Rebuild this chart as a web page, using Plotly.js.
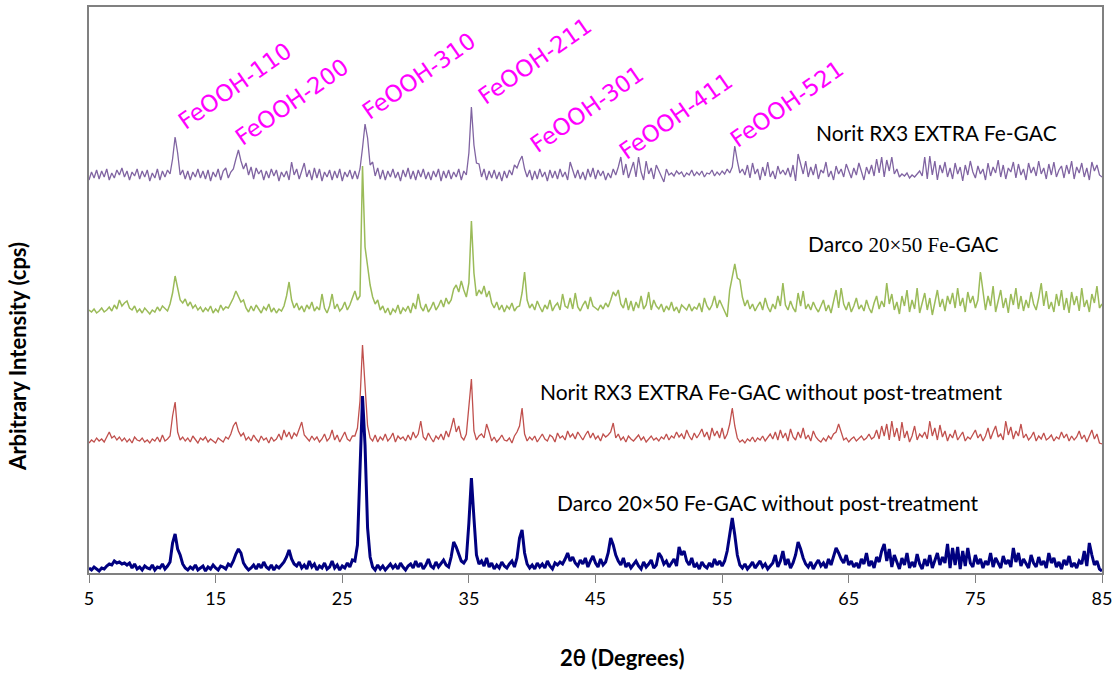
<!DOCTYPE html>
<html>
<head>
<meta charset="utf-8">
<script src="https://cdn.plot.ly/plotly-3.0.1.min.js"></script>
<style>
  html, body { margin: 0; padding: 0; background: #ffffff; }
  #chart { width: 1119px; height: 673px; }
</style>
</head>
<body>
<div id="chart"></div>
<script>
// XRD scan grid (2θ, degrees)
const twoThetaStart = 5;
const twoThetaStep = 0.2;

// Intensities (arbitrary units), one value per 0.2° step from 5° to 85°
const darcoUntreated = [
  5, 3, 6, 4, 2,   5, 4, 7, 9, 8,   12, 10, 11, 9, 10,   8, 10, 5, 9, 4,   6, 3, 7, 5, 4,
  8, 3, 6, 5, 9,   4, 7, 11, 30, 39,   24, 18, 9, 5, 3,   6, 4, 8, 3, 5,   7, 2, 6, 4, 8,
  5, 3, 7, 6, 4,   9, 7, 12, 19, 24,   20, 10, 6, 3, 5,   8, 4, 9, 5, 11,   6, 4, 8, 3, 7,
  5, 8, 11, 16, 23,   14, 9, 7, 11, 5,   8, 4, 12, 6, 9,   3, 7, 5, 10, 4,   6, 12, 5, 8, 3,
  7, 5, 10, 6, 13,   12, 28, 95, 177, 128,   45, 16, 6, 3, 8,   4, 7, 3, 6, 9,   5, 8, 4, 10, 6,
  3, 7, 9, 5, 12,   6, 10, 4, 8, 14,   7, 5, 11, 6, 9,   13, 8, 6, 16, 31,   26, 18, 12, 10, 14,
  50, 95, 55, 18, 9,   12, 7, 15, 6, 10,   4, 8, 5, 11, 7,   5, 9, 12, 6, 15,   35, 43, 20, 9, 5,
  8, 4, 10, 6, 9,   5, 12, 7, 4, 10,   8, 11, 9, 14, 20,   12, 16, 10, 7, 13,   9, 15, 6, 12, 17,
  10, 6, 14, 8, 11,   20, 35, 28, 18, 12,   8, 15, 6, 10, 5,   9, 12, 7, 4, 11,   6, 9, 13, 5, 8,
  20, 16, 9, 12, 6,   10, 14, 7, 26, 18,   22, 12, 8, 15, 6,   9, 4, 11, 7, 5,   10, 6, 14, 8, 12,
  7, 12, 22, 40, 55,   38, 18, 8, 5, 9,   4, 7, 11, 5, 8,   12, 6, 9, 4, 7,   10, 18, 6, 12, 22,
  8, 14, 5, 10, 18,   31, 24, 15, 9, 6,   11, 4, 9, 13, 7,   10, 5, 14, 8, 17,   25, 20, 14, 10, 18,
  8, 12, 6, 10, 5,   14, 9, 20, 7, 12,   5, 16, 11, 22, 29,   12, 24, 6, 18, 10,   4, 15, 8, 20, 5,
  11, 6, 19, 9, 4,   14, 7, 18, 5, 12,   20, 8, 16, 10, 29,   5, 25, 8, 26, 4,   22, 7, 25, 10, 6,
  18, 9, 14, 5, 12,   8, 20, 6, 15, 10,   5, 17, 9, 13, 6,   25, 11, 20, 7, 14,   9, 5, 18, 10, 6,
  16, 8, 12, 5, 20,   10, 15, 6, 11, 4,   13, 8, 17, 6, 10,   5, 12, 9, 22, 7,   30, 18, 8, 12, 4,
  2
];

const noritUntreated = [
  3, 6, 4, 8, 5,   7, 4, 9, 14, 8,   10, 6, 9, 5, 8,   4, 7, 3, 9, 6,   5, 8, 4, 6, 3,
  7, 5, 9, 4, 11,   5, 7, 10, 30, 44,   14, 6, 9, 5, 8,   4, 10, 6, 3, 8,   6, 9, 4, 7, 5,
  3, 8, 6, 4, 9,   7, 12, 20, 24, 15,   10, 13, 6, 9, 5,   11, 7, 4, 10, 6,   8, 3, 9, 5, 7,
  12, 6, 16, 9, 14,   7, 13, 10, 18, 24,   11, 8, 5, 10, 6,   9, 4, 7, 12, 5,   8, 16, 6, 11, 4,
  9, 14, 7, 5, 10,   10, 18, 45, 101, 62,   20, 8, 5, 11, 4,   9, 6, 12, 5, 8,   13, 4, 10, 7, 9,
  5, 11, 6, 14, 8,   12, 25, 9, 6, 13,   8, 4, 10, 7, 12,   6, 15, 9, 18, 28,   14, 20, 9, 6, 12,
  40, 67, 15, 6, 10,   12, 8, 22, 14, 5,   9, 4, 7, 11, 6,   5, 8, 3, 10, 14,   20, 38, 12, 5, 9,
  6, 10, 4, 8, 12,   7, 5, 11, 9, 4,   13, 8, 10, 6, 15,   9, 12, 7, 14, 10,   6, 11, 15, 8, 13,
  7, 10, 5, 12, 9,   11, 14, 23, 8, 12,   6, 9, 4, 10, 7,   5, 8, 11, 6, 9,   4, 7, 10, 6, 8,
  5, 9, 7, 12, 6,   10, 8, 14, 9, 12,   7, 16, 10, 6, 13,   8, 12, 17, 9, 14,   6, 18, 10, 15, 8,
  18, 7, 12, 22, 38,   20, 8, 4, 6, 3,   7, 5, 9, 4, 8,   6, 10, 5, 9, 12,   7, 14, 6, 16, 8,
  13, 5, 17, 9, 6,   14, 8, 18, 7, 11,   5, 15, 9, 6, 4,   8, 5, 10, 7, 12,   14, 22, 15, 6, 8,
  4, 7, 9, 5, 8,   10, 6, 8, 12, 7,   9, 16, 7, 20, 10,   22, 6, 25, 9, 18,   5, 24, 8, 15, 4,
  10, 20, 6, 12, 9,   14, 7, 25, 10, 18,   6, 21, 9, 15, 5,   12, 8, 16, 6, 10,   14, 5, 9, 7, 11,
  16, 8, 12, 5, 10,   18, 7, 14, 20, 9,   12, 6, 25, 11, 19,   7, 15, 10, 22, 8,   12, 6, 9, 14, 5,
  10, 7, 13, 6, 8,   11, 5, 9, 7, 14,   8, 12, 5, 10, 6,   9, 15, 7, 11, 4,   10, 16, 7, 12, 3,
  2
];

const darcoFeGac = [
  8, 6, 9, 5, 7,   10, 6, 8, 11, 7,   13, 9, 18, 12, 15,   17, 10, 8, 12, 6,   9, 5, 10, 7, 4,
  8, 6, 11, 7, 12,   9, 7, 14, 25, 42,   30, 18, 15, 19, 12,   16, 10, 13, 8, 11,   6, 10, 7, 12, 5,
  9, 6, 13, 8, 11,   10, 15, 20, 27, 22,   16, 18, 10, 6, 12,   7, 13, 9, 5, 11,   8, 14, 6, 10, 5,
  9, 7, 12, 22, 36,   18, 10, 15, 8, 12,   6, 13, 9, 16, 7,   11, 8, 24, 10, 5,   12, 24, 9, 14, 7,
  10, 16, 8, 13, 20,   27, 18, 22, 152, 71,   52, 33, 21, 14, 18,   8, 12, 5, 10, 3,   9, 6, 13, 4, 10,
  7, 12, 5, 15, 9,   24, 11, 7, 14, 6,   10, 16, 8, 12, 18,   11, 20, 14, 18, 29,   33, 26, 37, 28, 21,
  35, 97, 45, 22, 28,   24, 32, 21, 27, 15,   10, 16, 8, 13, 6,   12, 9, 15, 7, 11,   12, 25, 46, 18, 10,
  14, 8, 17, 11, 6,   13, 9, 18, 7, 12,   15, 8, 24, 12, 10,   20, 9, 25, 11, 7,   13, 17, 9, 21, 12,
  10, 8, 13, 9, 15,   11, 18, 26, 22, 28,   14, 10, 20, 8, 17,   7, 16, 10, 22, 9,   13, 26, 8, 18, 12,
  9, 14, 6, 12, 8,   16, 7, 11, 5, 13,   10, 8, 14, 7, 11,   9, 15, 6, 20, 12,   8, 13, 22, 10, 18,
  12, 6, 1, 28, 42,   54, 40, 38, 21, 12,   18, 9, 14, 7, 12,   16, 8, 20, 11, 6,   14, 9, 22, 12, 35,
  13, 8, 17, 10, 6,   25, 12, 27, 9, 14,   8, 16, 10, 6, 12,   18, 7, 13, 5, 15,   28, 10, 30, 14, 8,
  16, 6, 12, 20, 9,   13, 7, 18, 10, 5,   15, 22, 9, 17, 11,   35, 14, 24, 8, 16,   4, 22, 12, 28, 6,
  18, 9, 30, 5, 14,   25, 8, 20, 3, 16,   28, 11, 19, 7, 22,   14, 25, 10, 30, 12,   20, 6, 26, 15, 22,
  10, 18, 46, 24, 8,   22, 12, 32, 6, 17,   28, 10, 20, 5, 24,   13, 30, 9, 22, 7,   18, 10, 26, 14, 8,
  20, 35, 12, 27, 9,   16, 6, 24, 12, 28,   8, 20, 5, 26, 13,   22, 7, 30, 11, 18,   6, 24, 15, 32, 10,
  14
];

const noritFeGac = [
  3, 11, 5, 13, 4,   12, 6, 14, 3, 10,   5, 13, 8, 15, 6,   12, 3, 11, 7, 14,   4, 12, 6, 13, 2,
  10, 5, 14, 3, 12,   6, 13, 9, 24, 46,   30, 8, 13, 4, 12,   3, 11, 6, 14, 5,   12, 4, 13, 2, 11,
  6, 14, 3, 12, 15,   5, 11, 14, 24, 33,   22, 14, 20, 8, 16,   4, 15, 9, 13, 3,   12, 5, 14, 7, 13,
  2, 11, 6, 12, 3,   21, 8, 14, 4, 12,   20, 6, 13, 3, 15,   5, 14, 2, 11, 6,   13, 3, 12, 5, 14,
  2, 11, 6, 13, 4,   12, 4, 14, 35, 59,   45, 18, 21, 7, 15,   4, 13, 3, 12, 6,   14, 5, 11, 2, 13,
  6, 15, 4, 12, 3,   13, 6, 14, 4, 11,   3, 12, 6, 14, 2,   12, 5, 13, 4, 11,   6, 14, 3, 12, 8,
  30, 76, 38, 20, 19,   6, 14, 3, 12, 5,   13, 4, 11, 2, 12,   5, 13, 8, 18, 15,   22, 27, 14, 6, 13,
  3, 12, 4, 14, 6,   11, 2, 13, 5, 12,   4, 14, 6, 11, 3,   21, 12, 5, 13, 4,   11, 3, 14, 6, 15,
  4, 13, 7, 12, 3,   10, 5, 14, 8, 16,   26, 8, 19, 5, 13,   21, 6, 26, 11, 3,   22, 9, 15, 4, 18,
  12, 6, 1, 14, 8,   10, 7, 12, 9, 11,   6, 10, 8, 13, 7,   11, 8, 12, 6, 10,   9, 13, 7, 11, 8,
  12, 9, 14, 10, 16,   37, 22, 10, 14, 8,   18, 5, 20, 9, 14,   3, 16, 7, 21, 6,   12, 4, 17, 9, 13,
  8, 15, 6, 18, 2,   29, 20, 9, 22, 6,   16, 8, 19, 4, 13,   10, 21, 6, 12, 3,   17, 9, 14, 6, 19,
  11, 5, 15, 8, 20,   12, 3, 16, 9, 18,   7, 24, 10, 26, 6,   23, 12, 26, 9, 14,   6, 9, 7, 10, 5,
  8, 6, 9, 12, 7,   26, 4, 27, 8, 22,   3, 18, 10, 21, 6,   15, 4, 20, 9, 16,   2, 18, 8, 22, 11,
  5, 17, 9, 14, 3,   20, 7, 16, 10, 23,   6, 18, 4, 15, 11,   21, 5, 19, 8, 14,   3, 20, 10, 16, 7,
  22, 9, 15, 4, 19,   8, 21, 6, 13, 17,   5, 18, 9, 22, 4,   16, 10, 20, 6, 15,   3, 21, 12, 18, 8,
  6
];

// Vertical stacking offsets so the four patterns do not overlap
const stackOffsets = [0, 127, 255, 390];

const sampleNames = [
  'Darco 20×50 Fe-GAC without post-treatment',
  'Norit RX3 EXTRA Fe-GAC without post-treatment',
  'Darco 20×50 Fe-GAC',
  'Norit RX3 EXTRA Fe-GAC'
];

// Peak assignments (goethite reflections)
const peakLabels = ['FeOOH-110', 'FeOOH-200', 'FeOOH-310', 'FeOOH-211', 'FeOOH-301', 'FeOOH-411', 'FeOOH-521'];

const tickValues = [5, 15, 25, 35, 45, 55, 65, 75, 85];

function grid(n) {
  const xs = [];
  for (let i = 0; i < n; i++) xs.push(+(twoThetaStart + twoThetaStep * i).toFixed(2));
  return xs;
}
function shifted(arr, off) { return arr.map(v => v + off); }

const series = [noritFeGac, darcoFeGac, noritUntreated, darcoUntreated];
const seriesOffsets = [stackOffsets[3], stackOffsets[2], stackOffsets[1], stackOffsets[0]];
const seriesNames = [sampleNames[3], sampleNames[2], sampleNames[1], sampleNames[0]];
const seriesColors = ['#8064A2', '#9BBB59', '#C0504D', '#000080'];
const seriesWidths = [1.3, 1.5, 1.3, 3];

const traces = series.map((s, k) => ({
  type: 'scatter',
  mode: 'lines',
  name: seriesNames[k],
  x: grid(s.length),
  y: shifted(s, seriesOffsets[k]),
  line: { color: seriesColors[k], width: seriesWidths[k] },
  hoverinfo: 'skip'
}));

const sansFont = 'Lato, "Open Sans", sans-serif';
const peakFont = { family: '"DejaVu Sans", Verdana, sans-serif', size: 23, color: '#FF00FF' };

// label centres (2θ, intensity) for the rotated peak assignments
const peakLabelX = [16.5, 21.0, 31.05, 40.2, 44.35, 51.35, 60.1];
const peakLabelY = [487, 471, 497, 512, 464, 457, 469];

const annotations = peakLabels.map((t, i) => ({
  text: t, x: peakLabelX[i], y: peakLabelY[i], xref: 'x', yref: 'y',
  showarrow: false, textangle: -35, xanchor: 'center', yanchor: 'middle',
  font: peakFont
}));

const sampleFont = { family: sansFont, size: 21, color: '#000000' };
const serif = '<span style="font-family:\'Liberation Serif\', \'Times New Roman\', serif">';
const sampleLabelText = [
  'Norit RX3 EXTRA Fe-GAC',
  'Darco ' + serif + '20×50 Fe-</span>GAC',
  'Norit RX3 EXTRA Fe-GAC without post-treatment',
  'Darco 20×50 Fe-GAC without post-treatment'
];
const sampleLabelX = [71.95, 69.35, 58.9, 58.6];
const sampleLabelY = [441, 329, 182, 71];
sampleLabelText.forEach((t, i) => annotations.push({
  text: t, x: sampleLabelX[i], y: sampleLabelY[i], xref: 'x', yref: 'y',
  showarrow: false, xanchor: 'center', yanchor: 'middle', font: sampleFont
}));

// axis titles
annotations.push({
  text: '<b>2θ (Degrees)</b>', xref: 'paper', yref: 'paper', x: 0.526, y: -0.150,
  showarrow: false, xanchor: 'center', yanchor: 'middle',
  font: { family: sansFont, size: 22, color: '#000000' }
});
annotations.push({
  text: '<b>Arbitrary Intensity (cps)</b>', xref: 'paper', yref: 'paper', x: -0.070, y: 0.382,
  showarrow: false, xanchor: 'center', yanchor: 'middle', textangle: -90,
  font: { family: sansFont, size: 22, color: '#000000' }
});

const layout = {
  width: 1119,
  height: 673,
  margin: { l: 89, r: 17, t: 7, b: 100 },
  paper_bgcolor: '#ffffff',
  plot_bgcolor: '#ffffff',
  showlegend: false,
  xaxis: {
    range: [5, 85],
    tickvals: tickValues,
    ticktext: tickValues.map(String),
    ticks: 'outside',
    ticklen: 8,
    tickwidth: 1,
    tickcolor: '#808080',
    showline: true,
    linecolor: '#808080',
    linewidth: 2,
    mirror: true,
    showgrid: false,
    zeroline: false,
    tickfont: { family: sansFont, size: 18, color: '#000000' }
  },
  yaxis: {
    range: [0, 566],
    showticklabels: false,
    ticks: '',
    showline: true,
    linecolor: '#808080',
    linewidth: 2,
    mirror: true,
    showgrid: false,
    zeroline: false
  },
  annotations: annotations
};

Plotly.newPlot('chart', traces, layout, { displayModeBar: false, staticPlot: true });
</script>
</body>
</html>
